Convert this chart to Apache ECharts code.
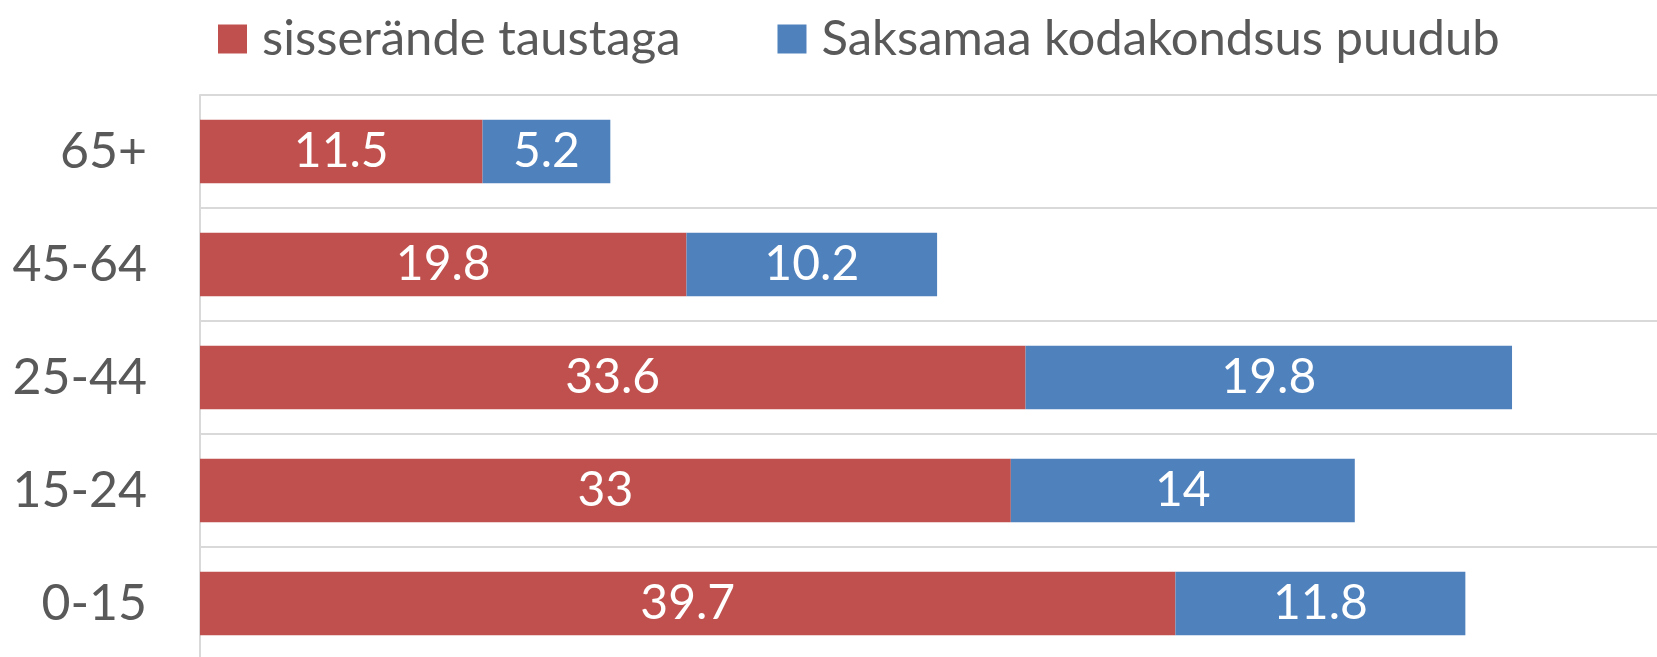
<!DOCTYPE html>
<html>
<head>
<meta charset="utf-8">
<script src="https://cdn.jsdelivr.net/npm/echarts@6/dist/echarts.min.js"></script>
<style>html,body{margin:0;padding:0;background:#fff;overflow:hidden;}#c{width:1657px;height:660px;}</style>
</head>
<body>
<div id="c"></div>
<script>
const categories = ['0-15', '15-24', '25-44', '45-64', '65+'];
const seriesNames = ['sisserände taustaga', 'Saksamaa kodakondsus puudub'];
const immigrantBackground = [39.7, 33, 33.6, 19.8, 11.5];
const noGermanCitizenship = [11.8, 14, 19.8, 10.2, 5.2];
const colors = ['#C0504D', '#4F81BD'];

const FONT = 'Lato';
const chart = echarts.init(document.getElementById('c'), null, {renderer: 'canvas'});
const labelCfg = {
  show: true, position: 'inside', color: '#ffffff',
  fontFamily: FONT, fontSize: 48
};
chart.setOption({
  animation: false,
  color: colors,
  legend: {
    left: 213, top: 9,
    itemWidth: 29, itemHeight: 29, itemGap: 97,
    icon: 'rect',
    textStyle: {fontFamily: FONT, fontSize: 49, color: '#595959', lineHeight: 50, padding: [0, 0, 0, 10]},
    data: seriesNames
  },
  grid: {left: 200, right: 0, top: 95, bottom: 0, containLabel: false},
  xAxis: {
    type: 'value', min: 0, max: 59.3,
    axisLine: {show: false}, axisTick: {show: false}, axisLabel: {show: false},
    splitLine: {show: false}
  },
  yAxis: {
    type: 'category', data: categories,
    axisLine: {show: true, lineStyle: {color: '#D9D9D9', width: 2}},
    axisTick: {show: false},
    axisLabel: {fontFamily: FONT, fontSize: 50, color: '#595959', margin: 53},
    splitLine: {show: true, lineStyle: {color: '#D9D9D9', width: 2}}
  },
  series: [
    {name: seriesNames[0], type: 'bar', stack: 'a', data: immigrantBackground,
     barCategoryGap: '44%', label: labelCfg},
    {name: seriesNames[1], type: 'bar', stack: 'a', data: noGermanCitizenship,
     barCategoryGap: '44%', label: labelCfg}
  ]
});
</script>
</body>
</html>
